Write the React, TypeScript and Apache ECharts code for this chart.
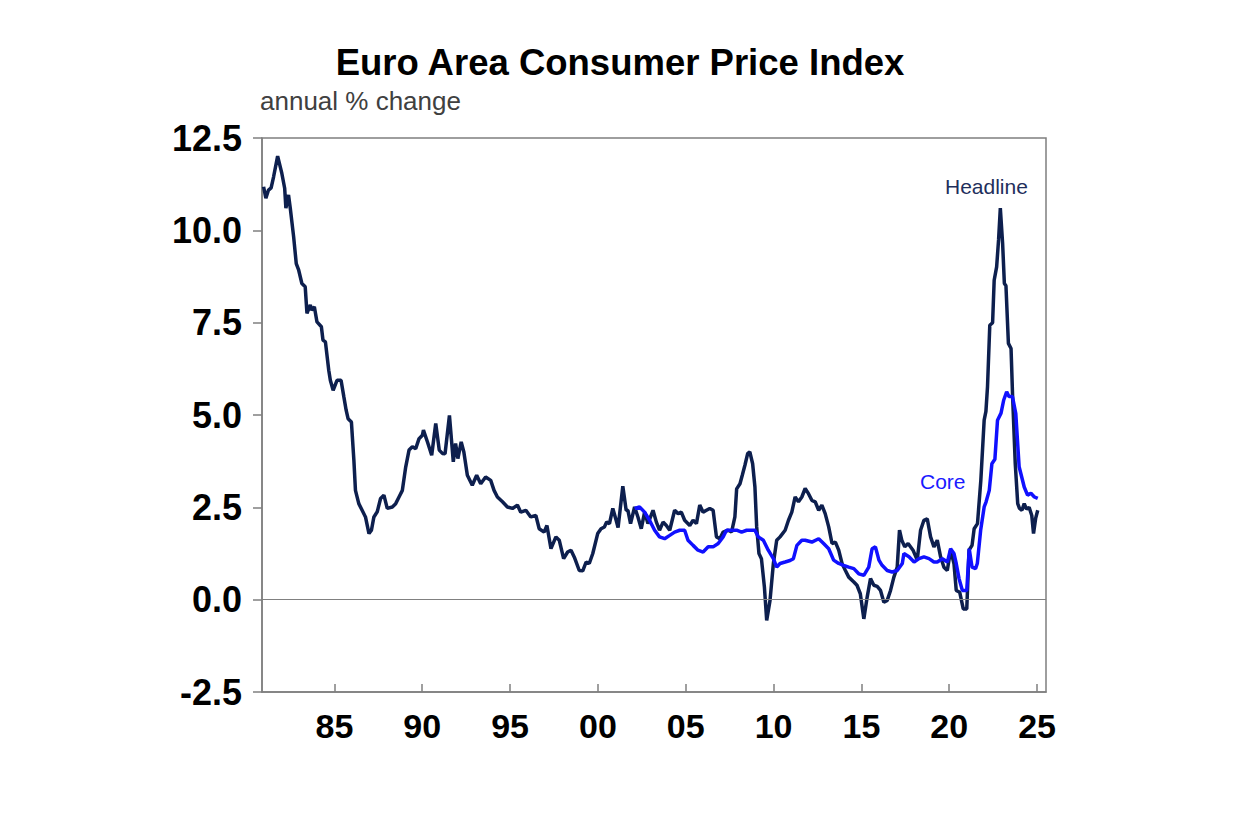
import React, { useEffect, useRef } from "react";
import * as echarts from "echarts";

// Headline CPI, annual % change (x = decimal year as plotted)
const headlineX = [
  1980.97, 1981.1, 1981.25, 1981.4, 1981.54, 1981.77, 1982.01, 1982.17, 1982.24, 1982.39,
  1982.49, 1982.68, 1982.83, 1982.97, 1983.15, 1983.34, 1983.44, 1983.63, 1983.7, 1983.86,
  1984.01, 1984.26, 1984.35, 1984.49, 1984.68, 1984.77, 1984.93, 1985.15, 1985.38, 1985.54,
  1985.67, 1985.78, 1985.97, 1986.11, 1986.2, 1986.39, 1986.58, 1986.77, 1986.97, 1987.11,
  1987.25, 1987.44, 1987.63, 1987.82, 1988.01, 1988.3, 1988.49, 1988.68, 1988.87, 1989.06,
  1989.25, 1989.44, 1989.63, 1989.82, 1990.01, 1990.07, 1990.3, 1990.54, 1990.77, 1990.97,
  1991.15, 1991.3, 1991.55, 1991.77, 1991.9, 1992.03, 1992.22, 1992.37, 1992.57, 1992.85,
  1993.1, 1993.33, 1993.61, 1993.9, 1994.09, 1994.28, 1994.57, 1994.85, 1995.14, 1995.42,
  1995.61, 1995.9, 1996.18, 1996.47, 1996.66, 1996.94, 1997.1, 1997.33, 1997.61, 1997.8,
  1998.05, 1998.28, 1998.47, 1998.66, 1998.94, 1999.14, 1999.33, 1999.51, 1999.71, 1999.99,
  2000.18, 2000.37, 2000.5, 2000.66, 2000.85, 2001.04, 2001.15, 2001.42, 2001.61, 2001.71,
  2001.86, 2002.09, 2002.28, 2002.47, 2002.66, 2002.85, 2003.14, 2003.33, 2003.51, 2003.71,
  2003.9, 2004.09, 2004.37, 2004.57, 2004.75, 2004.94, 2005.23, 2005.42, 2005.61, 2005.8,
  2005.99, 2006.18, 2006.37, 2006.56, 2006.75, 2006.94, 2007.13, 2007.42, 2007.61, 2007.8,
  2007.9, 2008.09, 2008.22, 2008.37, 2008.53, 2008.65, 2008.81, 2008.94, 2009.04, 2009.17,
  2009.31, 2009.48, 2009.61, 2009.8, 2009.99, 2010.18, 2010.37, 2010.66, 2010.85, 2011.04,
  2011.23, 2011.42, 2011.61, 2011.8, 2011.99, 2012.18, 2012.37, 2012.57, 2012.75, 2012.94,
  2013.14, 2013.33, 2013.52, 2013.71, 2013.9, 2014.09, 2014.28, 2014.57, 2014.75, 2014.94,
  2015.14, 2015.33, 2015.52, 2015.71, 2015.9, 2016.09, 2016.28, 2016.47, 2016.66, 2016.85,
  2017.04, 2017.17, 2017.3, 2017.47, 2017.66, 2017.94, 2018.18, 2018.37, 2018.56, 2018.75,
  2018.94, 2019.13, 2019.32, 2019.51, 2019.7, 2019.89, 2020.08, 2020.27, 2020.4, 2020.6,
  2020.8, 2021.0, 2021.13, 2021.3, 2021.42, 2021.61, 2021.8, 2021.99, 2022.09, 2022.18,
  2022.31, 2022.47, 2022.56, 2022.7, 2022.81, 2022.91, 2023.04, 2023.14, 2023.23, 2023.37,
  2023.52, 2023.61, 2023.76, 2023.9, 2024.0, 2024.14, 2024.27, 2024.4, 2024.55, 2024.7,
  2024.8, 2024.92, 2025.04,
];
const headlineY = [
  11.18, 10.87, 11.09, 11.15, 11.45, 12.01, 11.54, 11.14, 10.6, 10.96,
  10.6, 9.83, 9.1, 8.92, 8.56, 8.47, 7.75, 7.98, 7.84, 7.93,
  7.52, 7.39, 7.03, 6.98, 6.21, 5.94, 5.67, 5.94, 5.94, 5.49,
  5.13, 4.9, 4.81, 3.78, 2.96, 2.6, 2.42, 2.24, 1.79, 1.88,
  2.24, 2.38, 2.74, 2.83, 2.47, 2.51, 2.6, 2.78, 2.96, 3.59,
  4.05, 4.14, 4.09, 4.36, 4.45, 4.59, 4.27, 3.91, 4.77, 4.05,
  3.96, 3.95, 4.99, 3.73, 4.23, 3.82, 4.27, 4.0, 3.37, 3.1,
  3.37, 3.14, 3.32, 3.23, 2.96, 2.78, 2.65, 2.51, 2.47, 2.56,
  2.37, 2.42, 2.24, 2.28, 1.92, 1.83, 2.01, 1.38, 1.7, 1.61,
  1.11, 1.29, 1.34, 1.15, 0.79, 0.78, 1.02, 0.98, 1.25, 1.79,
  1.92, 1.97, 2.1, 2.06, 2.47, 2.15, 1.95, 3.07, 2.42, 2.42,
  2.06, 2.51, 2.24, 1.92, 2.37, 2.06, 2.42, 2.1, 1.88, 2.1,
  2.01, 1.88, 2.42, 2.33, 2.37, 2.15, 2.01, 2.15, 2.06, 2.56,
  2.37, 2.42, 2.47, 2.42, 1.7, 1.65, 1.83, 1.88, 1.83, 2.24,
  3.0, 3.14, 3.37, 3.64, 3.96, 4.0, 3.68, 3.05, 1.97, 1.25,
  1.11, 0.34, -0.56, -0.02, 0.98, 1.61, 1.7, 1.88, 2.15, 2.37,
  2.78, 2.65, 2.78, 3.01, 2.87, 2.69, 2.65, 2.42, 2.56, 2.33,
  1.97, 1.52, 1.56, 1.34, 0.98, 0.79, 0.61, 0.48, 0.39, 0.16,
  -0.52, 0.07, 0.57, 0.39, 0.36, 0.25, -0.07, -0.02, 0.25, 0.61,
  0.88, 1.88, 1.61, 1.43, 1.52, 1.34, 1.07, 1.88, 2.15, 2.19,
  1.7, 1.43, 1.61, 1.16, 0.88, 0.79, 1.34, 0.98, 0.25, 0.2,
  -0.25, -0.25, 1.34, 1.47, 1.92, 2.06, 3.23, 4.86, 5.1, 5.76,
  7.43, 7.5, 8.65, 9.01, 9.74, 10.6, 9.65, 8.56, 8.5, 6.94,
  6.8, 5.49, 3.68, 2.6, 2.47, 2.42, 2.6, 2.45, 2.5, 2.28,
  1.79, 2.2, 2.42,
];

// Core CPI, annual % change
const coreX = [
  2002.09, 2002.37, 2002.66, 2002.94, 2003.23, 2003.51, 2003.8, 2004.09, 2004.37, 2004.66,
  2004.94, 2005.13, 2005.42, 2005.7, 2005.99, 2006.28, 2006.56, 2006.85, 2007.13, 2007.32,
  2007.61, 2007.9, 2008.18, 2008.47, 2008.75, 2008.94, 2009.13, 2009.42, 2009.7, 2009.99,
  2010.18, 2010.37, 2010.66, 2010.94, 2011.13, 2011.33, 2011.61, 2011.8, 2012.18, 2012.57,
  2012.85, 2013.14, 2013.42, 2013.71, 2013.99, 2014.28, 2014.57, 2014.85, 2015.14, 2015.42,
  2015.61, 2015.8, 2016.0, 2016.18, 2016.47, 2016.75, 2017.04, 2017.33, 2017.42, 2017.71,
  2018.0, 2018.28, 2018.56, 2018.85, 2019.13, 2019.32, 2019.61, 2019.9, 2020.08, 2020.27,
  2020.4, 2020.56, 2020.75, 2021.0, 2021.14, 2021.3, 2021.5, 2021.6, 2021.79, 2021.99,
  2022.1, 2022.28, 2022.43, 2022.6, 2022.75, 2022.95, 2023.1, 2023.27, 2023.4, 2023.6,
  2023.79, 2023.98, 2024.27, 2024.46, 2024.65, 2024.85, 2025.04,
];
const coreY = [
  2.47, 2.51, 2.37, 2.15, 1.88, 1.7, 1.65, 1.74, 1.83, 1.88,
  1.88, 1.61, 1.47, 1.34, 1.29, 1.43, 1.43, 1.52, 1.7, 1.88,
  1.88, 1.88, 1.83, 1.88, 1.88, 1.88, 1.7, 1.61, 1.34, 1.11,
  0.88, 0.98, 1.02, 1.06, 1.11, 1.47, 1.61, 1.61, 1.56, 1.65,
  1.52, 1.38, 1.07, 0.98, 0.93, 0.88, 0.84, 0.7, 0.66, 0.88,
  1.38, 1.43, 1.07, 0.93, 0.79, 0.75, 0.79, 0.98, 1.25, 1.16,
  1.02, 1.11, 1.16, 1.11, 1.02, 1.02, 1.11, 1.02, 1.38, 1.25,
  0.98, 0.57, 0.25, 0.25, 1.38, 0.88, 0.84, 0.98, 1.88, 2.51,
  2.65, 2.96, 3.68, 3.8, 4.86, 5.05, 5.4, 5.63, 5.5, 5.5,
  5.04, 3.6, 3.05, 2.83, 2.88, 2.78, 2.74,
];

const xTickYears = [1985, 1990, 1995, 2000, 2005, 2010, 2015, 2020, 2025];

const titleText = "Euro Area Consumer Price Index";
const subtitleText = "annual % change";
const headlineName = "Headline";
const coreName = "Core";

const FONT = "'Liberation Sans', Arial, sans-serif";

export default function App() {
  const ref = useRef<HTMLDivElement>(null);

  useEffect(() => {
    document.body.style.margin = "0";
    const chart = echarts.init(ref.current!, null, { renderer: "svg" });
    const headlineData = headlineX.map((x, i) => [x, headlineY[i]]);
    const coreData = coreX.map((x, i) => [x, coreY[i]]);
    const axisGrey = "#7f7f7f";

    chart.setOption({
      animation: false,
      backgroundColor: "#ffffff",
      grid: {
        left: 262,
        right: 203,
        top: 138,
        bottom: 140,
        show: true,
        borderColor: axisGrey,
        borderWidth: 1.5,
        backgroundColor: "transparent",
      },
      xAxis: {
        type: "value",
        min: 1980.88,
        max: 2025.51,
        axisLine: { show: true, onZero: false, lineStyle: { color: axisGrey, width: 1.5 } },
        axisTick: {
          show: true,
          inside: true,
          length: 8,
          customValues: xTickYears,
          lineStyle: { color: axisGrey, width: 1.5 },
        },
        axisLabel: {
          customValues: xTickYears,
          formatter: (v: number) => String(Math.round(v) % 100).padStart(2, "0"),
          fontSize: 34,
          fontWeight: "bold",
          fontFamily: FONT,
          color: "#000000",
          margin: 17,
        },
        splitLine: { show: false },
      },
      yAxis: {
        type: "value",
        min: -2.5,
        max: 12.5,
        interval: 2.5,
        axisLine: { show: true, onZero: false, lineStyle: { color: axisGrey, width: 1.5 } },
        axisTick: { show: true, inside: false, length: 9, lineStyle: { color: axisGrey, width: 1.5 } },
        axisLabel: {
          formatter: (v: number) => v.toFixed(1),
          fontSize: 36,
          fontWeight: "bold",
          fontFamily: FONT,
          color: "#000000",
          margin: 20,
        },
        splitLine: { show: false },
      },
      series: [
        {
          type: "line",
          data: [],
          z: 1,
          silent: true,
          markLine: {
            silent: true,
            symbol: ["none", "none"],
            label: { show: false },
            lineStyle: { color: "#808080", width: 1, type: "solid" },
            data: [{ yAxis: 0 }],
          },
        },
        {
          name: headlineName,
          type: "line",
          data: headlineData,
          showSymbol: false,
          symbol: "none",
          z: 3,
          lineStyle: { color: "#0d1f4e", width: 3.5 },
        },
        {
          name: coreName,
          type: "line",
          data: coreData,
          showSymbol: false,
          symbol: "none",
          z: 4,
          lineStyle: { color: "#1010ff", width: 3.5 },
        },
      ],
      graphic: [
        {
          type: "text",
          x: 620,
          y: 62,
          style: {
            text: titleText,
            fontSize: 36.5,
            fontWeight: "bold",
            fontFamily: FONT,
            fill: "#000000",
            textAlign: "center",
            textVerticalAlign: "middle",
          },
        },
        {
          type: "text",
          x: 260,
          y: 101,
          style: {
            text: subtitleText,
            fontSize: 26,
            fontFamily: FONT,
            fill: "#404040",
            textAlign: "left",
            textVerticalAlign: "middle",
          },
        },
        {
          type: "text",
          x: 945,
          y: 186,
          style: {
            text: headlineName,
            fontSize: 21,
            fontFamily: FONT,
            fill: "#1f2f5c",
            textAlign: "left",
            textVerticalAlign: "middle",
          },
        },
        {
          type: "text",
          x: 920,
          y: 481,
          style: {
            text: coreName,
            fontSize: 21,
            fontFamily: FONT,
            fill: "#1a1aff",
            textAlign: "left",
            textVerticalAlign: "middle",
          },
        },
      ],
    });

    return () => chart.dispose();
  }, []);

  return <div ref={ref} style={{ width: 1249, height: 832 }} />;
}
